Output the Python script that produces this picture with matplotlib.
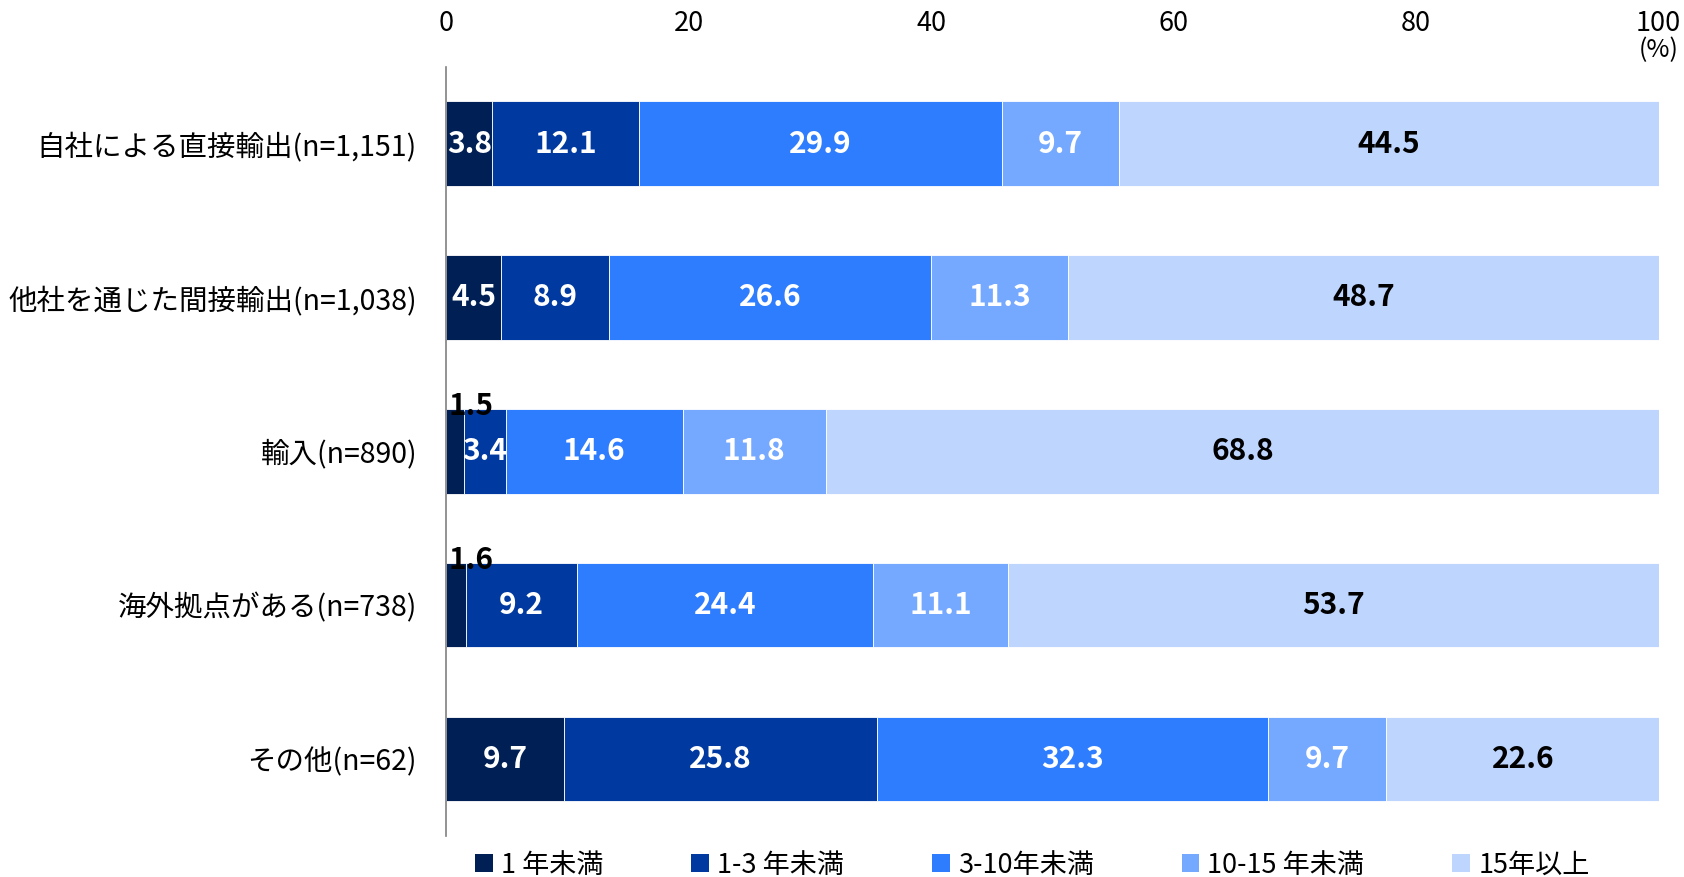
import matplotlib
matplotlib.use("Agg")
import matplotlib.pyplot as plt
from matplotlib.patches import Patch
import numpy as np

plt.rcParams['font.family'] = ['Noto Sans CJK JP', 'DejaVu Sans']

categories = ["自社による直接輸出(n=1,151)", "他社を通じた間接輸出(n=1,038)",
              "輸入(n=890)", "海外拠点がある(n=738)", "その他(n=62)"]
series_names = ["1 年未満", "1-3 年未満", "3-10年未満", "10-15 年未満", "15年以上"]
s1 = [3.8, 4.5, 1.5, 1.6, 9.7]
s2 = [12.1, 8.9, 3.4, 9.2, 25.8]
s3 = [29.9, 26.6, 14.6, 24.4, 32.3]
s4 = [9.7, 11.3, 11.8, 11.1, 9.7]
s5 = [44.5, 48.7, 68.8, 53.7, 22.6]
xticks = [0, 20, 40, 60, 80, 100]

colors = ["#001f54", "#0039a0", "#2f7dff", "#75a8ff", "#bed5fe"]
text_colors = ["white", "white", "white", "white", "black"]

fig = plt.figure(figsize=(16.84, 8.77), dpi=100)
ax = fig.add_axes([0.265, 0.047, 0.72, 0.877])

data = [s1, s2, s3, s4, s5]
y = np.arange(len(categories))
left = np.zeros(len(categories))
for i, vals in enumerate(data):
    vals = np.array(vals)
    ax.barh(y, vals, left=left, height=0.55, color=colors[i],
            edgecolor='white', linewidth=0.6, label=series_names[i])
    for j, v in enumerate(vals):
        if v < 3:
            ax.text(left[j] + 0.2, y[j] - 0.55 / 2 + 0.04, f"{v:.1f}",
                    ha='left', va='baseline', color='black',
                    fontsize=21.5, fontweight='bold')
        else:
            ax.text(left[j] + v / 2, y[j], f"{v:.1f}", ha='center', va='center',
                    color=text_colors[i], fontsize=21.5, fontweight='bold')
    left += vals

ax.set_xlim(0, 100)
ax.set_ylim(4.5, -0.5)
ax.set_yticks(y)
ax.set_yticklabels(categories, fontsize=20.5)
ax.xaxis.tick_top()
ax.set_xticks(xticks)
ax.set_xticklabels([str(t) for t in xticks], fontsize=19.5)
ax.tick_params(axis='x', length=0, pad=21)
ax.tick_params(axis='y', length=0, pad=21)
for s in ['top', 'right', 'bottom']:
    ax.spines[s].set_visible(False)
ax.spines['left'].set_color('#808080')
ax.spines['left'].set_linewidth(1.2)

fig.text(0.985, 0.943, "(%)", ha='center', va='center', fontsize=18)

handles = [Patch(facecolor=c, edgecolor='none') for c in colors]
fig.legend(handles, series_names, loc='lower center', ncol=5,
           bbox_to_anchor=(0.613, -0.03), frameon=False, fontsize=19.5,
           handlelength=0.65, handleheight=0.65, handletextpad=0.3,
           columnspacing=3.25)

fig.savefig("out.png", dpi=100)
